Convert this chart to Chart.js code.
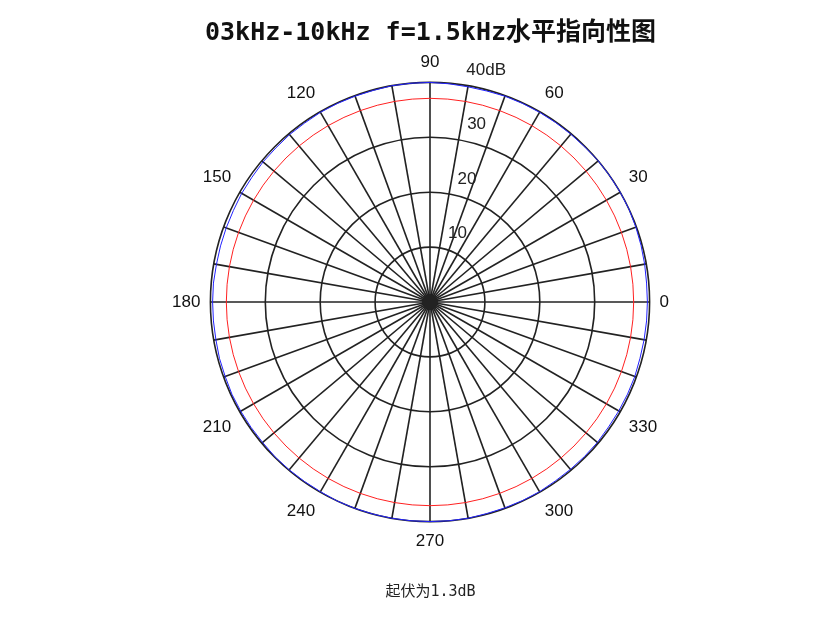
<!DOCTYPE html>
<html><head><meta charset="utf-8">
<script src="https://cdn.jsdelivr.net/npm/chart.js@4.4.0/dist/chart.umd.min.js"></script>
<style>html,body{margin:0;padding:0;background:#fff}#w{width:831px;height:623px}</style>
</head><body><div id="w"><canvas id="c"></canvas></div>
<script>
// angles (deg) 0..355 step 5
const angles = [0,5,10,15,20,25,30,35,40,45,50,55,60,65,70,75,80,85,90,95,100,105,110,115,120,125,130,135,140,145,150,155,160,165,170,175,180,185,190,195,200,205,210,215,220,225,230,235,240,245,250,255,260,265,270,275,280,285,290,295,300,305,310,315,320,325,330,335,340,345,350,355];
const measured = [39.6,39.6,39.7,39.8,39.9,40.0,40.0,40.0,40.0,39.9,39.9,39.9,39.9,39.9,39.9,39.8,39.8,39.9,40.0,40.0,40.0,39.9,39.9,39.9,39.9,39.8,39.8,39.7,39.7,39.6,39.6,39.5,39.5,39.5,39.5,39.6,39.6,39.6,39.6,39.7,39.7,39.8,39.8,39.8,39.8,39.9,39.9,39.9,39.9,40.0,40.0,40.0,40.0,40.0,40.0,40.0,40.0,39.9,39.9,39.9,39.9,39.8,39.8,39.8,39.8,39.7,39.7,39.7,39.7,39.6,39.6,39.6];
const reference = angles.map(() => 37.1);
const radialTicks = [10,20,30,40];
const labeledAngles = [0,30,60,90,120,150,180,210,240,270,300,330];

// radar index i goes clockwise from top: angle = 90 - 5*i
const idxAngles = angles.map((_, i) => ((90 - 5 * i) % 360 + 360) % 360);
const byAngle = arr => idxAngles.map(a => arr[angles.indexOf(a)]);

const tickPlugin = {
  id: 'tickPlugin',
  afterDraw(chart) {
    const s = chart.scales.r, ctx = chart.ctx;
    ctx.save();
    ctx.fillStyle = '#222';
    ctx.font = '17px "Liberation Sans", Arial';
    ctx.textAlign = 'center'; ctx.textBaseline = 'middle';
    const th = 80 * Math.PI / 180;
    radialTicks.forEach(v => {
      const d = s.getDistanceFromCenterForValue(v);
      const txt = v === 40 ? '40dB' : String(v);
      ctx.fillText(txt, s.xCenter + d * Math.cos(th) + 18, s.yCenter - d * Math.sin(th) - 15);
    });
    ctx.fillStyle = '#222';
    ctx.beginPath(); ctx.arc(s.xCenter, s.yCenter, 8, 0, Math.PI * 2); ctx.fill();
    ctx.restore();
  }
};

new Chart(document.getElementById('c'), {
  type: 'radar',
  data: {
    labels: idxAngles.map(String),
    datasets: [
      { data: byAngle(measured), borderColor: '#2222ff', borderWidth: 1, pointRadius: 0, fill: false, tension: 0 },
      { data: byAngle(reference), borderColor: '#ff2020', borderWidth: 1, pointRadius: 0, fill: false, tension: 0 }
    ]
  },
  plugins: [tickPlugin],
  options: {
    responsive: true, maintainAspectRatio: false, animation: false,
    layout: { padding: { left: 30, top: 6, bottom: 10 } },
    plugins: {
      legend: { display: false }, tooltip: { enabled: false },
      title: { display: true, text: '03kHz-10kHz f=1.5kHz水平指向性图', color: '#111',
        font: { family: '"DejaVu Sans Mono", "Noto Sans CJK SC"', size: 25, weight: 'bold' }, padding: { top: 12, bottom: 4 } },
      subtitle: { display: true, position: 'bottom', text: '起伏为1.3dB', color: '#222',
        font: { family: '"DejaVu Sans Mono", "Noto Sans CJK SC"', size: 15 }, padding: { top: 30, bottom: 12 } }
    },
    scales: {
      r: {
        min: 0, max: 40, startAngle: 0,
        ticks: { display: false, stepSize: 10 },
        grid: { circular: true, color: '#222', lineWidth: 1.6 },
        angleLines: { lineWidth: 1.6,
          color: (ctx) => (ctx.index % 2 === 0 ? '#222' : 'rgba(0,0,0,0)') },
        pointLabels: { color: '#111', padding: 10,
          font: { family: '"Liberation Sans", Arial', size: 17 },
          callback: (l) => labeledAngles.includes(Number(l)) ? l : '' }
      }
    }
  }
});
</script></body></html>
